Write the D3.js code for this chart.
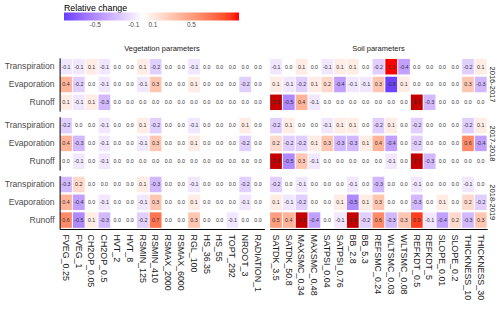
<!DOCTYPE html>
<html>
<head>
<meta charset="utf-8">
<script src="https://cdn.jsdelivr.net/npm/d3@7"></script>
<style>
  body { margin: 0; background: #fff; }
  svg { font-family: "Liberation Sans", Arial, sans-serif; }
</style>
</head>
<body>
<svg id="chart" width="500" height="310"></svg>
<script>
const vegParams = ['FVEG_0.25', 'FVEG_1', 'CH2OP_0.05', 'CH2OP_0.5', 'HVT_2', 'HVT_8', 'RSMIN_125', 'RSMIN_410',
  'RSMAX_2000', 'RSMAX_6000', 'RGL_100', 'HS_36.35', 'HS_55', 'TOPT_292', 'NROOT_3', 'RADIATION_1'];
const soilParams = ['SATDK_3.5', 'SATDK_50.8', 'MAXSMC_0.34', 'MAXSMC_0.48', 'SATPSI_0.04', 'SATPSI_0.76', 'BB_2.8',
  'BB_5.3', 'REFSMC_0.24', 'WLTSMC_0.03', 'WLTSMC_0.08', 'REFKDT_0.5', 'REFKDT_5', 'SLOPE_0.01', 'SLOPE_0.2',
  'THICKNESS_10', 'THICKNESS_30'];
const years = ['2016-2017', '2017-2018', '2018-2019'];
const fluxes = ['Transpiration', 'Evaporation', 'Runoff'];
const legendTicks = [-0.5, -0.1, 0.1, 0.5];

// vegetation columns, then soil columns
const transp2016 = [-0.1, -0.1, 0.1, -0.1, 0.0, 0.0, 0.1, -0.2, 0.0, 0.0, -0.1, 0.0, 0.0, 0.0, 0.0, 0.0,
  -0.1, 0.0, 0.1, 0.0, -0.1, 0.1, 0.1, 0.0, -0.2, 1.0, -0.4, 0.0, 0.0, 0.0, 0.0, -0.2, 0.1];
const evap2016 = [0.4, -0.2, 0.0, -0.1, 0.0, 0.0, -0.1, 0.3, 0.0, 0.0, 0.1, 0.0, 0.0, 0.0, -0.2, 0.0,
  0.1, -0.1, -0.2, 0.1, 0.2, -0.4, -0.1, -0.1, 0.3, -0.8, 0.1, 0.0, 0.0, 0.0, 0.0, 0.3, -0.3];
const runoff2016 = [0.1, -0.1, 0.1, -0.3, 0.0, 0.0, 0.0, 0.0, 0.0, 0.0, 0.0, 0.0, 0.0, 0.0, 0.0, 0.0,
  2.9, -0.5, 0.4, -0.1, 0.0, 0.0, 0.0, 0.0, 0.0, 0.0, 0.0, 3.7, -0.3, 0.0, 0.0, 0.0, 0.0];
const transp2017 = [-0.2, 0.0, 0.0, -0.1, 0.0, 0.0, 0.1, -0.2, 0.0, 0.0, -0.1, 0.0, 0.0, 0.0, 0.1, 0.0,
  -0.2, 0.1, 0.0, 0.0, -0.1, 0.1, 0.1, 0.0, -0.2, 0.1, 0.0, -0.2, 0.0, 0.0, 0.0, -0.2, 0.1];
const evap2017 = [0.4, -0.3, 0.0, -0.1, 0.0, 0.0, -0.1, 0.3, 0.0, 0.0, 0.1, 0.0, 0.0, 0.0, -0.2, 0.0,
  0.2, -0.2, -0.2, 0.1, 0.3, -0.3, -0.3, 0.1, 0.4, -0.4, 0.0, -0.2, 0.0, 0.0, 0.0, 0.6, -0.4];
const runoff2017 = [0.0, -0.1, 0.0, -0.1, 0.0, 0.0, 0.0, 0.0, 0.0, 0.0, 0.0, 0.0, 0.0, 0.0, 0.0, 0.0,
  2.3, -0.5, 0.3, -0.1, 0.0, 0.0, 0.0, 0.0, 0.0, -0.1, 0.0, 2.7, -0.3, 0.0, 0.0, 0.0, 0.0];
const transp2018 = [-0.3, 0.2, 0.0, 0.0, 0.0, 0.0, 0.1, -0.3, 0.0, 0.0, -0.1, 0.0, 0.0, 0.0, -0.2, 0.0,
  -0.2, 0.0, -0.1, 0.0, 0.0, 0.0, -0.1, 0.0, -0.3, 0.0, 0.0, -0.1, 0.0, 0.0, 0.0, -0.1, 0.0];
const evap2018 = [0.4, -0.4, 0.0, -0.1, 0.0, 0.0, -0.1, 0.3, 0.0, 0.0, 0.1, 0.0, 0.0, 0.0, -0.1, 0.0,
  0.1, -0.1, -0.2, 0.0, 0.0, 0.1, -0.5, 0.1, 0.3, 0.0, 0.0, -0.3, 0.0, 0.1, 0.0, 0.2, -0.2];
const runoff2018 = [0.6, -0.5, 0.1, -0.3, 0.0, 0.0, -0.2, 0.7, 0.0, 0.0, 0.3, 0.0, 0.0, -0.1, 0.0, 0.0,
  0.5, 0.4, 1.3, -0.4, 0.0, -0.1, 1.5, -0.2, 0.6, -0.3, 0.3, 0.9, -0.1, -0.4, 0.2, -0.3, 0.3];

const rows = [
  [transp2016, evap2016, runoff2016],
  [transp2017, evap2017, runoff2017],
  [transp2018, evap2018, runoff2018]
];

const svg = d3.select('#chart');
const width = 500;
const height = 310;

// panel geometry
const top0 = 57.8;
const facetH = 53.4;
const facetGap = 5.5;
const vegRange = [59.6, 264.4];
const soilRange = [269.6, 487.2];
const axisY = top0 + 3 * facetH + 2 * facetGap;

const xVeg = d3.scaleBand().domain(vegParams).range(vegRange);
const xSoil = d3.scaleBand().domain(soilParams).range(soilRange);
const facetTop = d3.scaleBand().domain(years).range([top0, axisY + facetGap]).paddingInner(0);
const yFor = yr => d3.scaleBand().domain(fluxes).range([facetTop(yr), facetTop(yr) + facetH]);

// diverging fill, values above the limit fall back to na colour
const fillScale = d3.scaleLinear()
  .domain([-1, 0, 1])
  .range(['blue', 'white', 'red'])
  .interpolate(d3.interpolateLab);
const naFill = '#c40000';
const fillOf = v => v > 1.0001 ? naFill : fillScale(v);

const cells = [];
years.forEach((yr, i) => {
  fluxes.forEach((fl, j) => {
    rows[i][j].forEach((v, k) => {
      const isVeg = k < vegParams.length;
      cells.push({
        year: yr,
        flux: fl,
        group: isVeg ? 'veg' : 'soil',
        param: isVeg ? vegParams[k] : soilParams[k - vegParams.length],
        value: v
      });
    });
  });
});

const cellGroup = svg.append('g').attr('class', 'cells');
const tiles = cellGroup.selectAll('g')
  .data(cells)
  .join('g')
  .attr('transform', d => {
    const xs = d.group === 'veg' ? xVeg : xSoil;
    const ys = yFor(d.year);
    return `translate(${xs(d.param)},${ys(d.flux)})`;
  });

tiles.append('rect')
  .attr('x', 0.5)
  .attr('y', 1.15)
  .attr('width', xVeg.bandwidth() - 1)
  .attr('height', d => yFor(d.year).bandwidth() - 2.3)
  .attr('fill', d => fillOf(d.value));

tiles.append('text')
  .attr('x', xVeg.bandwidth() / 2)
  .attr('y', d => yFor(d.year).bandwidth() / 2)
  .attr('dy', '0.35em')
  .attr('text-anchor', 'middle')
  .attr('font-size', 5.3)
  .attr('fill', '#333')
  .text(d => d.value.toFixed(1));

// left axis per facet row
years.forEach(yr => {
  const g = svg.append('g')
    .attr('transform', `translate(${vegRange[0]},0)`)
    .call(d3.axisLeft(yFor(yr)).tickSize(0).tickSizeOuter(0).tickPadding(5));
  g.select('.domain').attr('stroke', '#000').attr('stroke-width', 1);
  g.selectAll('text').attr('font-size', 8.6).attr('fill', '#4d4d4d').attr('font-family', null);
});

// bottom axes
[[xVeg, 'veg'], [xSoil, 'soil']].forEach(([xs]) => {
  const g = svg.append('g')
    .attr('transform', `translate(0,${axisY})`)
    .call(d3.axisBottom(xs).tickSize(0).tickSizeOuter(0));
  g.select('.domain').attr('stroke', '#000').attr('stroke-width', 1);
  g.selectAll('text')
    .attr('font-size', 8.9)
    .attr('fill', '#1a1a1a')
    .attr('font-family', null)
    .attr('text-anchor', 'start')
    .attr('x', 0)
    .attr('y', 0)
    .attr('dy', '0.35em')
    .attr('transform', 'translate(0,5.5) rotate(90)');
});

// top strips
svg.append('text')
  .attr('x', (vegRange[0] + vegRange[1]) / 2)
  .attr('y', 51)
  .attr('text-anchor', 'middle')
  .attr('font-size', 7.5)
  .attr('fill', '#1a1a1a')
  .text('Vegetation parameters');
svg.append('text')
  .attr('x', (soilRange[0] + soilRange[1]) / 2)
  .attr('y', 51)
  .attr('text-anchor', 'middle')
  .attr('font-size', 7.5)
  .attr('fill', '#1a1a1a')
  .text('Soil parameters');

// right strips
years.forEach(yr => {
  svg.append('text')
    .attr('transform', `translate(${soilRange[1] + 5},${facetTop(yr) + facetH / 2}) rotate(90)`)
    .attr('text-anchor', 'middle')
    .attr('dy', '0.35em')
    .attr('font-size', 7.5)
    .attr('fill', '#1a1a1a')
    .text(yr);
});

// legend
const legendX = d3.scaleLinear().domain([-0.82, 1]).range([64, 239]);
const defs = svg.append('defs');
const grad = defs.append('linearGradient').attr('id', 'lg');
d3.range(0, 1.0001, 0.05).forEach(t => {
  grad.append('stop')
    .attr('offset', `${t * 100}%`)
    .attr('stop-color', fillScale(legendX.invert(64 + t * 175)));
});
svg.append('text')
  .attr('x', 64)
  .attr('y', 10.5)
  .attr('font-size', 8.8)
  .attr('fill', '#000')
  .text('Relative change');
svg.append('rect')
  .attr('x', legendX.range()[0])
  .attr('y', 12.5)
  .attr('width', legendX.range()[1] - legendX.range()[0])
  .attr('height', 8)
  .attr('fill', 'url(#lg)');
const lg = svg.append('g')
  .attr('transform', 'translate(0,20.5)')
  .call(d3.axisBottom(legendX).tickValues(legendTicks).tickSize(0).tickPadding(1.5).tickFormat(d => d.toFixed(1)));
lg.select('.domain').remove();
lg.selectAll('text').attr('font-size', 6.5).attr('fill', '#4d4d4d').attr('font-family', null);
</script>
</body>
</html>
